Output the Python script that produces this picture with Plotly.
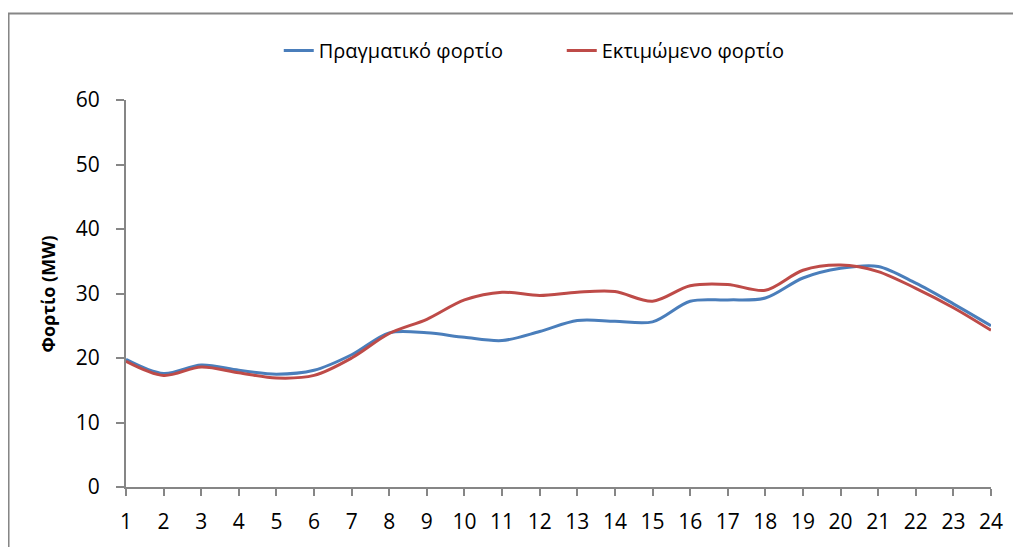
import plotly.graph_objects as go

hours = list(range(1, 25))
actual = [19.8, 17.6, 18.9, 18.1, 17.5, 18.1, 20.5, 23.9, 23.9, 23.2, 22.7, 24.1,
          25.8, 25.7, 25.6, 28.8, 29.0, 29.3, 32.4, 33.9, 34.2, 31.6, 28.4, 25.0]
estimated = [19.5, 17.3, 18.6, 17.7, 16.9, 17.3, 20.0, 23.8, 26.0, 29.0, 30.2, 29.7,
             30.2, 30.3, 28.8, 31.2, 31.4, 30.5, 33.6, 34.4, 33.4, 30.8, 27.8, 24.3]
names = ["Πραγματικό φορτίο", "Εκτιμώμενο φορτίο"]
y_title = "Φορτίο (MW)"

FONT = "'Open Sans', sans-serif"
GREY = "#868686"

fig = go.Figure()
fig.add_trace(go.Scatter(x=hours, y=actual, name=names[0], mode="lines",
                         line=dict(color="#4a7ebb", width=3, shape="spline", smoothing=0.9)))
fig.add_trace(go.Scatter(x=hours, y=estimated, name=names[1], mode="lines",
                         line=dict(color="#be4b48", width=3, shape="spline", smoothing=0.9)))

fig.update_layout(
    width=1013, height=539,
    margin=dict(l=118, r=30, t=92, b=56),
    paper_bgcolor="white", plot_bgcolor="white",
    font=dict(family=FONT, size=21, color="black"),
    showlegend=True,
    legend=dict(orientation="h", x=0.1766, y=1.128, xanchor="left", yanchor="middle",
                font=dict(size=20), tracegroupgap=0, entrywidth=238, entrywidthmode="pixels"),
    xaxis=dict(range=[1, 24], tickmode="array", tickvals=hours, ticktext=[str(h) for h in hours],
               showgrid=False, zeroline=False, showline=True, linecolor=GREY, linewidth=2,
               ticks="outside", ticklen=7, tickcolor=GREY, tickwidth=2,
               ticklabelstandoff=8, fixedrange=True),
    yaxis=dict(range=[0, 60], tickvals=[0, 10, 20, 30, 40, 50, 60],
               showgrid=False, zeroline=False, showline=True, linecolor=GREY, linewidth=2,
               ticks="outside", ticklen=8, tickcolor=GREY, tickwidth=2,
               ticklabelstandoff=12, fixedrange=True),
    annotations=[dict(text="<b>" + y_title + "</b>", xref="paper", yref="paper",
                      x=-0.0902, y=0.5, textangle=-90, showarrow=False,
                      font=dict(size=18, family=FONT), xanchor="center", yanchor="middle")],
    shapes=[dict(type="rect", xref="paper", yref="paper", x0=-0.1358, x1=1.2,
                 y0=-0.3, y1=1.2238, line=dict(color=GREY, width=2), layer="below")],
)

fig.write_html("out.html")
